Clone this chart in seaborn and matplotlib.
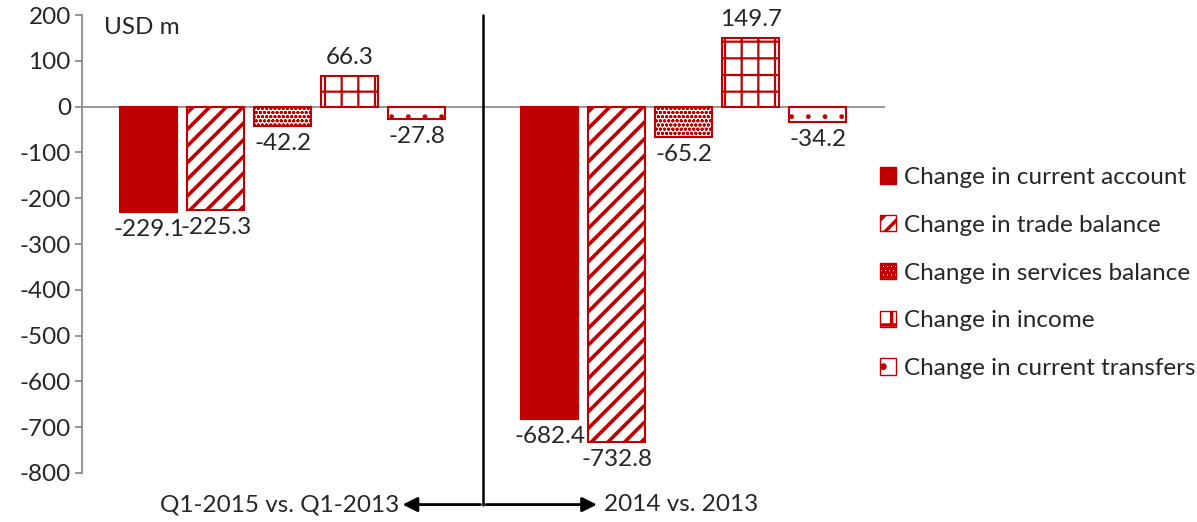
import matplotlib
matplotlib.use("Agg")
import matplotlib.pyplot as plt
import seaborn as sns
import pandas as pd

periods = ["Q1-2015 vs. Q1-2013", "2014 vs. 2013"]
series = ["Change in current account", "Change in trade balance",
          "Change in services balance", "Change in income",
          "Change in current transfers"]
current_account = [-229.1, -682.4]
trade_balance = [-225.3, -732.8]
services_balance = [-42.2, -65.2]
income = [66.3, 149.7]
current_transfers = [-27.8, -34.2]
yticks = list(range(-800, 201, 100))

values = [current_account, trade_balance, services_balance, income, current_transfers]
rows = []
for s, vals in zip(series, values):
    for p, v in zip(periods, vals):
        rows.append({"period": p, "series": s, "value": v})
df = pd.DataFrame(rows)

sns.set_theme(style="white")
plt.rcParams["font.family"] = ["Lato", "DejaVu Sans"]
plt.rcParams["hatch.linewidth"] = 2.5
RED = "#C00000"
FS = 17.5

fig = plt.figure(figsize=(11.97, 5.22), dpi=100)
ax = fig.add_axes([0.0685, 0.0939, 0.6705, 0.8771])

sns.barplot(data=df, x="period", y="value", hue="series", hue_order=series,
            order=periods, palette=["white"] * 5, width=0.835, gap=0.15,
            ax=ax, legend=False, errorbar=None)

hatches = [None, "//", "oooo", "+", "."]
hatch_lw = [1.0, 2.6, 1.0, 1.6, 1.0]
for i, cont in enumerate(ax.containers):
    for bar in cont:
        if i == 0:
            bar.set_facecolor(RED)
            bar.set_edgecolor(RED)
        else:
            bar.set_facecolor("white")
            bar.set_edgecolor(RED)
            bar.set_hatch(hatches[i])
            if hasattr(bar, "set_hatch_linewidth"):
                bar.set_hatch_linewidth(hatch_lw[i])
        bar.set_linewidth(1.5)

# value labels
for i, cont in enumerate(ax.containers):
    for bar, v in zip(cont, values[i]):
        x = bar.get_x() + bar.get_width() / 2
        if v >= 0:
            ax.annotate(f"{v:.1f}", (x, v), xytext=(0, 6), textcoords="offset points",
                        ha="center", va="bottom", fontsize=FS)
        else:
            ax.annotate(f"{v:.1f}", (x, v), xytext=(0, -5), textcoords="offset points",
                        ha="center", va="top", fontsize=FS)

ax.set_xlim(-0.5, 1.5)
ax.set_ylim(-800, 200)
ax.set_yticks(yticks)
ax.set_yticklabels([str(t) for t in yticks], fontsize=FS)
ax.set_xticks([])
ax.set_xlabel("")
ax.set_ylabel("")
for side in ["top", "right", "bottom"]:
    ax.spines[side].set_visible(False)
ax.spines["left"].set_color("#888888")
ax.tick_params(axis="y", left=True, length=5, color="#888888", pad=3)
ax.axhline(0, color="#888888", lw=1.2, zorder=0)

ax.text(-0.445, 196, "USD m", fontsize=FS, ha="left", va="top")

# divider and arrows
ax.plot([0.5, 0.5], [200, -869], color="black", lw=1.8, clip_on=False)
ax.annotate("", xy=(0.292, -869), xytext=(0.5, -869), annotation_clip=False,
            arrowprops=dict(arrowstyle="-|>", color="black", lw=2, mutation_scale=22))
ax.annotate("", xy=(0.79, -869), xytext=(0.5, -869), annotation_clip=False,
            arrowprops=dict(arrowstyle="-|>", color="black", lw=2, mutation_scale=22))
ax.text(0.29, -869, "Q1-2015 vs. Q1-2013", ha="right", va="center", fontsize=FS)
ax.text(0.80, -869, "2014 vs. 2013", ha="left", va="center", fontsize=FS)

# legend
from matplotlib.patches import Patch
handles = []
for i, s in enumerate(series):
    if i == 0:
        handles.append(Patch(facecolor=RED, edgecolor=RED, label=s))
    else:
        handles.append(Patch(facecolor="white", edgecolor=RED, hatch=hatches[i], label=s))
fig.legend(handles=handles, loc="center left", bbox_to_anchor=(0.717, 0.477),
           frameon=False, fontsize=FS, handlelength=0.65, handleheight=0.65,
           handletextpad=0.35, labelspacing=1.1)

fig.savefig("out.png", dpi=100)
